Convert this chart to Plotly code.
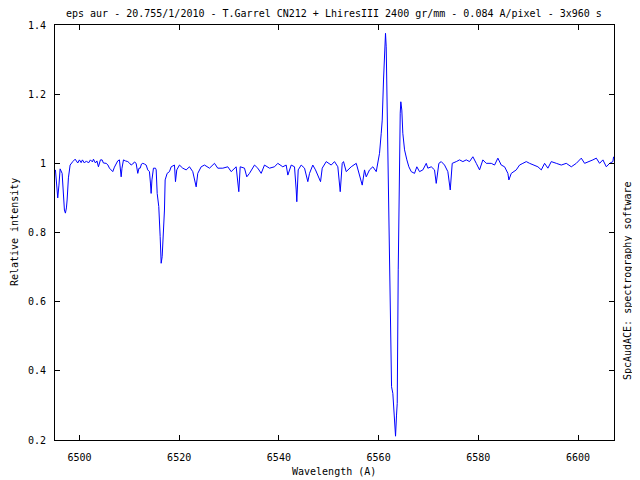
import plotly.graph_objects as go

wavelength = [6495.19,6495.49,6495.65,6495.89,6496.13,6496.53,6496.79,6496.99,6497.19,6497.39,6497.53,6497.79,6498.13,6498.40,6498.66,6499.14,6499.40,6499.66,6500.00,6500.34,6500.60,6501.00,6501.40,6501.81,6502.21,6502.61,6502.81,6503.21,6503.51,6503.81,6504.21,6504.55,6504.81,6505.36,6505.72,6506.02,6506.36,6506.68,6507.02,6507.36,6507.68,6508.02,6508.22,6508.37,6508.53,6508.83,6509.23,6509.69,6510.03,6510.37,6510.69,6511.03,6511.37,6511.53,6511.70,6511.94,6512.18,6512.44,6512.70,6513.04,6513.38,6513.70,6514.04,6514.24,6514.38,6514.54,6514.84,6515.25,6515.39,6515.59,6515.91,6516.19,6516.39,6516.59,6516.85,6517.05,6517.19,6517.59,6518.05,6518.40,6519.06,6519.26,6519.52,6520.06,6520.72,6521.40,6522.07,6522.73,6523.41,6523.73,6524.41,6525.08,6526.08,6527.08,6527.74,6528.75,6529.75,6530.43,6531.43,6531.76,6531.96,6532.24,6533.10,6533.56,6534.10,6535.11,6535.77,6536.45,6537.11,6538.11,6539.12,6539.78,6540.78,6541.46,6541.79,6542.47,6543.13,6543.47,6543.59,6543.87,6544.47,6545.14,6545.60,6545.80,6546.14,6546.80,6547.34,6548.14,6548.35,6548.69,6549.49,6550.49,6551.15,6551.82,6552.16,6552.30,6552.70,6552.96,6553.50,6554.50,6555.51,6555.83,6556.71,6557.17,6557.51,6558.17,6558.84,6559.52,6559.84,6560.18,6560.52,6560.72,6560.98,6561.18,6561.38,6561.52,6561.64,6561.85,6562.19,6562.39,6562.59,6562.85,6563.05,6563.25,6563.39,6563.59,6563.73,6563.93,6564.13,6564.33,6564.45,6564.65,6564.85,6565.20,6565.66,6566.06,6566.54,6567.20,6567.66,6568.20,6568.87,6569.55,6569.87,6570.55,6571.21,6571.55,6572.08,6572.56,6573.22,6573.88,6574.36,6574.76,6575.57,6576.23,6576.89,6577.57,6578.23,6578.90,6579.58,6580.24,6580.90,6581.58,6582.59,6583.25,6583.91,6584.59,6585.26,6585.92,6586.12,6586.60,6587.60,6588.26,6588.93,6589.61,6590.27,6591.27,6591.94,6592.62,6593.28,6593.94,6594.62,6595.63,6596.63,6597.63,6598.64,6599.64,6600.64,6601.30,6602.31,6602.97,6603.65,6604.31,6604.97,6605.66,6606.32,6606.98,6607.12]

intensity = [0.981,0.937,0.900,0.937,0.984,0.971,0.900,0.865,0.856,0.871,0.894,0.958,0.995,1.001,1.005,1.012,1.004,1.001,1.010,1.002,1.010,1.001,1.007,1.001,1.010,1.004,1.012,1.001,1.007,0.990,1.010,1.010,1.001,1.000,0.995,0.986,0.981,0.976,0.989,1.000,1.007,1.010,0.981,0.961,0.986,1.010,1.007,1.005,1.001,0.995,0.998,1.004,1.000,0.986,0.971,0.986,0.986,0.998,1.000,0.998,0.995,0.981,0.976,0.943,0.913,0.952,0.986,0.986,0.981,0.913,0.875,0.788,0.711,0.730,0.807,0.865,0.952,0.971,0.976,0.990,0.995,0.947,0.981,0.995,0.986,0.981,0.990,0.976,0.932,0.971,0.990,0.995,0.986,1.000,0.986,0.986,0.990,0.976,0.990,0.942,0.918,0.990,0.986,0.961,0.971,0.995,0.986,0.971,0.995,0.986,0.990,1.000,0.990,0.995,0.966,0.995,0.990,0.923,0.889,0.981,0.995,0.986,0.957,0.947,0.971,0.995,0.981,0.957,0.947,0.986,1.005,0.995,1.005,0.990,0.942,0.918,1.000,1.005,0.976,0.990,1.000,0.981,0.937,0.981,0.961,0.981,0.990,0.976,1.000,1.029,1.087,1.125,1.241,1.328,1.376,1.337,1.222,0.932,0.701,0.499,0.354,0.335,0.296,0.258,0.211,0.272,0.306,0.692,0.981,1.145,1.178,1.154,1.087,1.039,1.010,0.990,0.976,0.971,0.990,0.976,0.981,1.000,0.986,0.990,0.981,0.942,1.000,1.005,0.995,0.976,0.923,1.000,1.005,1.010,1.005,1.010,1.005,1.019,1.000,0.981,1.010,1.000,1.000,0.995,1.015,0.995,0.990,0.971,0.952,0.971,0.981,0.995,1.000,1.005,1.000,0.995,0.990,0.981,1.000,0.986,1.005,1.000,0.995,1.000,0.990,1.000,1.015,1.000,1.005,1.010,1.015,1.000,1.010,0.990,1.000,1.005,1.019]

x_ticks = [6500, 6520, 6540, 6560, 6580, 6600]
y_ticks = [0.2, 0.4, 0.6, 0.8, 1.0, 1.2, 1.4]
y_tick_labels = ["0.2", "0.4", "0.6", "0.8", "1", "1.2", "1.4"]

title_text = "eps aur - 20.755/1/2010 - T.Garrel CN212 + LhiresIII 2400 gr/mm - 0.084 A/pixel - 3x960 s"
x_label = "Wavelength (A)"
y_label = "Relative intensity"
side_label = "SpcAudACE: spectrography software"

FONT = "DejaVu Sans Mono"
fsize = 10

fig = go.Figure()
fig.add_trace(go.Scatter(x=wavelength, y=intensity, mode="lines",
                         line=dict(color="#0000ff", width=1), showlegend=False))

axis_common = dict(showline=True, linecolor="black", linewidth=1, mirror="ticks",
                   ticks="inside", ticklen=5, tickcolor="black", tickwidth=1,
                   showgrid=False, zeroline=False,
                   tickfont=dict(family=FONT, size=fsize, color="black"))

fig.update_xaxes(range=[6495.1, 6607.2], tickvals=x_ticks, ticklabelstandoff=8, **axis_common)
fig.update_yaxes(range=[0.2, 1.4], tickvals=y_ticks, ticktext=y_tick_labels,
                 ticklabelstandoff=6, **axis_common)

ann_font = dict(family=FONT, size=fsize, color="black")
fig.update_layout(
    width=632, height=472,
    margin=dict(l=47, r=26, t=17, b=40),
    paper_bgcolor="white", plot_bgcolor="white",
    annotations=[
        dict(text=title_text, xref="paper", yref="paper", x=0.4991, y=1.0289,
             showarrow=False, font=ann_font, xanchor="center", yanchor="middle"),
        dict(text=x_label, xref="paper", yref="paper", x=0.4991, y=-0.0771,
             showarrow=False, font=ann_font, xanchor="center", yanchor="middle"),
        dict(text=y_label, xref="paper", yref="paper", x=-0.0733, y=0.501,
             showarrow=False, font=ann_font, textangle=-90, xanchor="center", yanchor="middle"),
        dict(text=side_label, xref="paper", yref="paper", x=1.0233, y=0.383,
             showarrow=False, font=ann_font, textangle=-90, xanchor="center", yanchor="middle"),
    ],
)

fig.write_html("out.html")
